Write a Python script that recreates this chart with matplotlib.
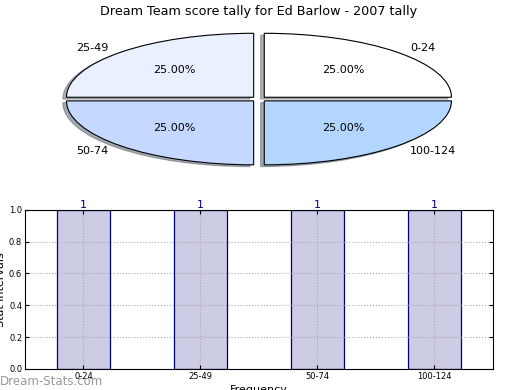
import matplotlib
matplotlib.use("Agg")
import matplotlib.pyplot as plt

categories = ["0-24", "25-49", "50-74", "100-124"]
counts = [1, 1, 1, 1]
pie_colors = ["#ffffff", "#eaf0ff", "#c5d8ff", "#b3d6ff"]
title = "Dream Team score tally for Ed Barlow - 2007 tally"

fig = plt.figure(figsize=(5.2, 3.9), dpi=100)

# Pie (squashed ellipse)
ax1 = fig.add_axes([0.048, 0.541, 0.9, 0.41])
wedges, texts, autotexts = ax1.pie(
    counts, labels=categories, colors=pie_colors, autopct="%1.2f%%",
    explode=[0.04] * len(counts),
    shadow=dict(ox=-0.014, oy=-0.02, shade=0.6),
    startangle=0,
    wedgeprops=dict(edgecolor="black", linewidth=0.8),
    textprops=dict(fontsize=8))
ax1.set_aspect("auto")
ax1.set_xlim(-1.25, 1.25)
ax1.set_ylim(-1.25, 1.25)
ax1.set_title(title, fontsize=9.2, pad=3)

# Bars
ax2 = fig.add_axes([0.048, 0.054, 0.9, 0.408])
x = list(range(len(categories)))
ax2.bar(x, counts, width=0.45, color=(0, 0, 0.5, 0.2), edgecolor="navy", linewidth=0.9)
for xi, c in zip(x, counts):
    ax2.text(xi, c, str(c), ha="center", va="bottom", color="navy", fontsize=8)
ax2.set_xlim(-0.5, 3.5)
ax2.set_ylim(0, 1.0)
ax2.set_xticks(x)
ax2.set_xticklabels(categories, fontsize=6)
ax2.set_yticks([0.0, 0.2, 0.4, 0.6, 0.8, 1.0])
ax2.set_yticklabels(["0.0", "0.2", "0.4", "0.6", "0.8", "1.0"], fontsize=6)
ax2.tick_params(direction="in", length=3, top=True, right=True, pad=2)
ax2.set_axisbelow(False)
ax2.grid(True, linestyle=":", color="#aaaaaa", linewidth=0.8)
for sp in ax2.spines.values():
    sp.set_zorder(3)
ax2.set_ylabel("Stat intervals", fontsize=8, labelpad=2)
ax2.set_xlabel("Frequency", fontsize=8, labelpad=3)

fig.text(0.0, 0.004, "Dream-Stats.com", fontsize=8.5, color="#999999", ha="left", va="bottom")

fig.savefig("out.png", dpi=100)
